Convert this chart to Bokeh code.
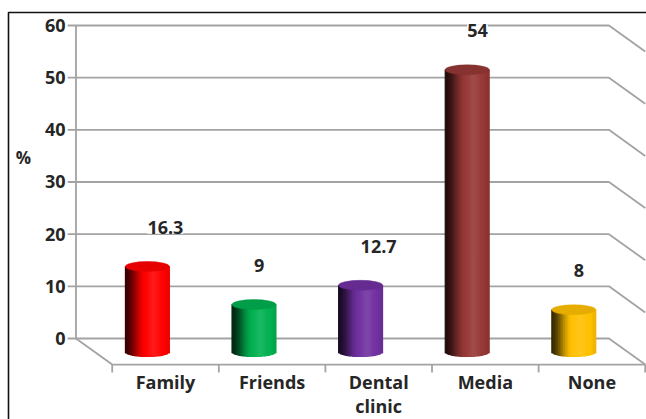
import numpy as np
from bokeh.plotting import figure
from bokeh.models import Range1d
from bokeh.core.properties import value
from bokeh.embed import file_html
from bokeh.resources import INLINE

# ---- data ----
categories = ["Family", "Friends", "Dental\nclinic", "Media", "None"]
percent = [16.3, 9, 12.7, 54, 8]
bar_colors = ["#ff0000", "#00b050", "#7030a0", "#953735", "#ffc000"]
y_ticks = [0, 10, 20, 30, 40, 50, 60]
y_tick_labels = ["0", "10", "20", "30", "40", "50", "60"]
y_title = "%"

# ---- layout constants (data units) ----
DX, DY = 0.34, -5.0            # depth offset back -> front
FRONT_L, FRONT_R = -0.5, len(categories) - 0.5
BACK_L, BACK_R = FRONT_L - DX, FRONT_R - DX
HALF_W = 0.206                 # cylinder half width
ELL_H = 1.9                    # cylinder ellipse height
N_STRIPS = 26
FONT = value("Open Sans")
TXT = "#262626"
GRID = "#a3a3a3"

p = figure(width=646, height=419, output_backend="svg", toolbar_location=None,
           x_range=Range1d(-1.548, 4.512), y_range=Range1d(-15.53, 64.79),
           x_axis_location=None, y_axis_location=None, min_border=0,
           outline_line_color=None, background_fill_color="white",
           border_fill_color="white")
p.grid.visible = False

# ---- chart border (top and left) ----
p.line([-1.473, -1.473, 4.52], [-16, 62.49, 62.49], line_color="#111111", line_width=1.6)

# ---- back wall gridlines with right side wall ----
gx, gy = [], []
for t in y_ticks:
    gx.append([BACK_L - 0.078, BACK_R, FRONT_R])
    gy.append([t, t, t + DY])
p.multi_line(gx, gy, line_color=GRID, line_width=1.8)
# back wall vertical + floor
p.line([BACK_L, BACK_L], [y_ticks[0], y_ticks[-1]], line_color=GRID, line_width=1.8)
p.line([BACK_L, FRONT_L, FRONT_R], [0, DY, DY], line_color=GRID, line_width=1.8)
# category ticks on floor front edge
cx = [FRONT_L + k for k in range(len(categories) + 1)]
p.segment(cx, [DY] * len(cx), cx, [DY - 1.5] * len(cx), line_color=GRID, line_width=1.8)


# ---- cylinders ----
def hex2rgb(h):
    h = h.lstrip("#")
    return np.array([int(h[i:i + 2], 16) for i in (0, 2, 4)], dtype=float)


def rgb2hex(c):
    c = np.clip(c, 0, 255).round().astype(int)
    return "#%02x%02x%02x" % tuple(c)


def shade(hexc, t):
    base = hex2rgb(hexc)
    s = min(t / 0.48, 1.0)
    s = s * s * (3 - 2 * s)
    f = 0.22 + 0.78 * s
    c = base * f
    hl = 0.10 * np.exp(-((t - 0.66) / 0.13) ** 2)
    c = c + (255 - c) * hl
    if t > 0.9:
        c = c * (1 - 0.08 * (t - 0.9) / 0.1)
    return rgb2hex(c)


sx, sb, st, sc = [], [], [], []
cap_x, cap_y, cap_c = [], [], []
base_y = DY / 2
for i, (v, col) in enumerate(zip(percent, bar_colors)):
    xc = i - DX / 2
    for k in range(N_STRIPS):
        t = (k + 0.5) / N_STRIPS
        u = 2 * t - 1
        sx.append(xc - HALF_W + (2 * HALF_W) * t)
        sb.append(base_y - ELL_H / 2 * np.sqrt(max(1 - u * u, 0)))
        st.append(base_y + v)
        sc.append(shade(col, t))
    cap_x.append(xc)
    cap_y.append(base_y + v)
    cap_c.append(rgb2hex(hex2rgb(col) * 0.9))

p.vbar(x=sx, width=2 * HALF_W / N_STRIPS, bottom=sb, top=st,
       fill_color=sc, line_color=sc, line_width=1.2)
p.ellipse(x=cap_x, y=cap_y, width=2 * HALF_W, height=ELL_H,
          fill_color=cap_c, line_color=cap_c, line_width=0.5)

# ---- value labels ----
p.text(x=[i - DX / 2 for i in range(len(percent))], y=[v + 5 for v in percent],
       text=[f"{v:g}" for v in percent], text_font=FONT, text_font_style="bold",
       text_font_size="18px", text_align="left", text_baseline="middle",
       text_color=TXT, background_fill_color="white")

# ---- y tick labels ----
p.text(x=[BACK_L - 0.098] * len(y_ticks), y=y_ticks, text=y_tick_labels,
       text_font=FONT, text_font_style="bold", text_font_size="18px",
       text_align="right", text_baseline="middle", text_color=TXT)
p.text(x=[-1.332], y=[34.7], text=[y_title], text_font=FONT, text_font_style="bold",
       text_font_size="17px", text_align="center", text_baseline="middle", text_color=TXT)

# ---- category labels ----
p.text(x=list(range(len(categories))), y=[DY - 1.0] * len(categories), text=categories,
       text_font=FONT, text_font_style="bold", text_font_size="18px",
       text_align="center", text_baseline="top", text_line_height=1.0, text_color=TXT)

open("out.html", "w").write(file_html(p, INLINE))
